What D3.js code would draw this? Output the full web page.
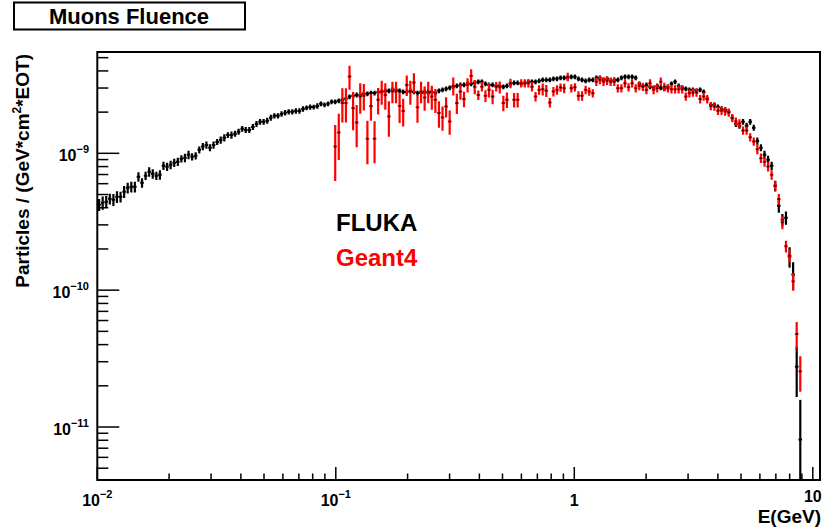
<!DOCTYPE html>
<html>
<head>
<meta charset="utf-8">
<script src="https://cdn.jsdelivr.net/npm/d3@7"></script>
<style>
body { margin: 0; background: #fff; }
text { font-family: "Liberation Sans", Arial, Helvetica, sans-serif; font-weight: bold; }
</style>
</head>
<body>
<svg id="c" width="823" height="529"></svg>
<script>
// binning shared by both histograms (log bins)
var eMin = 0.01, eMax = 10, nBins = 200;
var unit = 1e-9;

// FLUKA, bins 0..196, in units of 1e-9
var fluka = [
 0.421,0.435,0.443,0.465,0.458,0.481,0.481,0.524,0.560,0.569,
 0.569,0.674,0.609,0.685,0.733,0.709,0.685,0.697,0.811,0.797,
 0.824,0.853,0.867,0.912,0.927,0.975,0.943,0.959,1.06,1.12,
 1.15,1.10,1.15,1.21,1.25,1.30,1.36,1.36,1.39,1.44,
 1.51,1.48,1.48,1.56,1.64,1.70,1.70,1.73,1.82,1.88,
 1.88,1.94,1.98,2.01,2.01,2.04,2.04,2.11,2.15,2.18,
 2.18,2.22,2.30,2.26,2.30,2.38,2.38,2.42,2.46,2.50,
 2.59,2.63,2.67,2.67,2.72,2.72,2.76,2.76,2.81,2.81,
 2.86,2.86,2.91,2.91,2.86,2.81,2.81,2.86,2.81,2.76,
 2.76,2.81,2.76,2.81,2.76,2.86,2.91,2.96,3.01,3.06,
 3.11,3.16,3.16,3.22,3.22,3.27,3.33,3.33,3.22,3.16,
 3.16,3.11,3.11,3.06,3.11,3.22,3.27,3.27,3.22,3.27,
 3.33,3.33,3.33,3.38,3.44,3.44,3.44,3.50,3.50,3.56,
 3.56,3.56,3.62,3.62,3.50,3.44,3.38,3.44,3.44,3.56,
 3.56,3.44,3.50,3.38,3.44,3.44,3.56,3.62,3.62,3.62,
 3.56,3.22,3.11,3.16,3.06,3.01,3.11,3.01,2.96,3.06,
 3.22,3.33,3.11,3.01,2.96,2.91,2.91,2.86,2.91,2.81,
 2.50,2.26,2.26,2.18,2.11,2.08,2.01,1.82,1.64,1.59,
 1.70,1.59,1.70,1.54,1.23,1.10,0.975,0.897,0.811,0.579,
 0.414,0.327,0.338,0.176,0.130,0.0276,0.0081
];
// relative errors of FLUKA
var flukaErr = [
 .10,.11,.10,.09,.10,.10,.09,.10,.09,.09,
 .09,.08,.08,.07,.08,.08,.07,.08,.07,.07,
 .07,.07,.07,.06,.07,.07,.06,.06,.06,.06,
 .06,.06,.06,.05,.06,.06,.05,.06,.05,.05,
 .05,.05,.05,.05,.05,.05,.05,.05,.05,.045,
 .045,.045,.045,.045,.045,.045,.045,.045,.04,.045,
 .04,.045,.04,.04,.04,.04,.04,.04,.04,.04,
 .04,.04,.04,.04,.04,.04,.04,.04,.04,.04,
 .04,.04,.04,.04,.04,.04,.04,.04,.04,.04,
 .04,.04,.04,.04,.04,.04,.04,.04,.04,.04,
 .04,.04,.04,.04,.04,.04,.04,.04,.04,.04,
 .04,.04,.04,.04,.04,.04,.04,.04,.04,.04,
 .04,.04,.04,.04,.04,.04,.04,.04,.04,.04,
 .04,.04,.04,.04,.04,.04,.04,.04,.04,.04,
 .04,.04,.04,.04,.04,.04,.04,.04,.04,.04,
 .04,.04,.04,.04,.04,.04,.04,.04,.04,.04,
 .04,.04,.04,.04,.04,.04,.04,.04,.04,.04,
 .04,.04,.04,.045,.045,.045,.045,.05,.05,.05,
 .05,.05,.05,.05,.06,.06,.07,.07,.07,.09,
 .11,.10,.11,.17,.23,.40,.95
];

// Geant4, bins 66..196, in units of 1e-9
var g4First = 66;
var geant4 = [
 1.12,1.42,2.33,2.33,3.64,2.14,1.68,2.60,2.63,1.28,
 2.22,1.28,2.46,2.83,2.67,1.86,2.83,2.83,2.22,2.04,
 3.16,2.83,3.29,2.17,2.83,2.56,2.83,2.60,2.46,1.97,
 1.83,2.20,1.71,3.11,2.33,2.83,2.49,3.16,3.68,3.07,
 2.67,3.07,2.63,2.91,2.60,3.07,3.04,2.33,2.46,3.25,
 2.46,2.46,3.25,3.25,3.25,3.07,2.60,2.91,2.94,2.87,
 2.35,2.83,2.91,3.03,2.99,3.62,2.99,3.04,2.63,2.63,
 2.91,2.83,2.75,3.34,3.44,3.34,3.40,3.34,3.34,2.99,
 2.99,3.25,3.04,3.25,2.99,3.11,3.07,2.91,3.25,2.91,
 2.99,3.34,3.07,2.99,2.94,2.94,2.94,2.94,2.60,2.75,
 2.78,2.78,2.49,2.60,2.49,2.22,2.20,2.05,2.05,2.02,
 1.99,1.81,1.71,1.66,1.47,1.47,1.31,1.22,1.07,0.922,
 0.867,0.801,0.697,0.579,0.463,0.313,0.209,0.179,0.116,0.0479,
 0.0255
];
var geant4Err = [
 .44,.37,.28,.28,.20,.31,.34,.25,.22,.35,
 .22,.34,.22,.20,.22,.29,.18,.18,.25,.23,
 .17,.20,.17,.23,.18,.20,.18,.20,.20,.22,
 .20,.17,.20,.15,.17,.13,.13,.12,.12,.12,
 .08,.08,.10,.12,.12,.08,.10,.13,.13,.08,
 .12,.12,.07,.07,.07,.08,.08,.08,.10,.10,
 .08,.08,.08,.07,.08,.07,.07,.07,.08,.08,
 .07,.07,.07,.07,.07,.07,.07,.07,.07,.07,
 .07,.07,.07,.07,.07,.07,.07,.07,.07,.07,
 .07,.07,.07,.07,.07,.07,.07,.07,.07,.07,
 .07,.07,.07,.07,.07,.07,.07,.07,.07,.07,
 .07,.07,.07,.07,.07,.07,.07,.07,.08,.08,
 .08,.08,.08,.08,.09,.11,.10,.11,.145,.22,
 .29
];

var xMajor = [0.01, 0.1, 1, 10];
var xMajorLabels = [["10","\u22122"], ["10","\u22121"], ["1",""], ["10",""]];
var yMajor = [1e-9, 1e-10, 1e-11];
var yMajorLabels = [["10","\u22129"], ["10","\u221210"], ["10","\u221211"]];

var fl = 97.3, fr = 820, ft = 52, fb = 480;
var svg = d3.select("#c");

var x = d3.scaleLog().domain([0.01, 10.72]).range([fl, fr]);
var y = d3.scaleLog().domain([4.1e-12, 5.5e-9]).range([fb, ft]);

var dl = (Math.log10(eMax) - Math.log10(eMin)) / nBins;
function binEdge(i) { return Math.pow(10, Math.log10(eMin) + i * dl); }
function binMid(i) { return Math.pow(10, Math.log10(eMin) + (i + 0.5) * dl); }

function toPoints(vals, errs, first) {
  return vals.map(function(v, k) {
    return { i: first + k, v: v * unit, e: v * unit * errs[k] };
  });
}

svg.append("defs").append("clipPath").attr("id", "frame")
  .append("rect").attr("x", fl).attr("y", ft).attr("width", fr - fl).attr("height", fb - ft);

// title box
svg.append("rect").attr("x", 14).attr("y", 2.5).attr("width", 231).attr("height", 27)
  .attr("fill", "#fff").attr("stroke", "#000").attr("stroke-width", 2);
svg.append("text").attr("x", 129).attr("y", 24).attr("text-anchor", "middle")
  .attr("font-size", 22).text("Muons Fluence");

// minor ticks
var xMinor = [], yMinor = [];
[-2, -1, 0, 1].forEach(function(p) {
  for (var m = 2; m <= 9; m++) {
    var v = m * Math.pow(10, p);
    if (v < 10.72) xMinor.push(v);
  }
});
[-12, -11, -10, -9].forEach(function(p) {
  for (var m = 2; m <= 9; m++) {
    var v = m * Math.pow(10, p);
    if (v > 4.1e-12 && v < 5.5e-9) yMinor.push(v);
  }
});

var axes = svg.append("g").attr("stroke", "#000").attr("stroke-width", 1.5);
axes.selectAll(".xt").data(xMajor).enter().append("line")
  .attr("x1", function(d) { return x(d); }).attr("x2", function(d) { return x(d); })
  .attr("y1", fb).attr("y2", fb - 13);
axes.selectAll(".xm").data(xMinor).enter().append("line")
  .attr("x1", function(d) { return x(d); }).attr("x2", function(d) { return x(d); })
  .attr("y1", fb).attr("y2", fb - 6.5);
axes.selectAll(".yt").data(yMajor).enter().append("line")
  .attr("y1", function(d) { return y(d); }).attr("y2", function(d) { return y(d); })
  .attr("x1", fl).attr("x2", fl + 22);
axes.selectAll(".ym").data(yMinor).enter().append("line")
  .attr("y1", function(d) { return y(d); }).attr("y2", function(d) { return y(d); })
  .attr("x1", fl).attr("x2", fl + 11);

// histograms
function drawHist(pts, color, mark) {
  var g = svg.append("g").attr("clip-path", "url(#frame)");
  g.selectAll(".v").data(pts).enter().append("line")
    .attr("x1", function(d) { return x(binMid(d.i)); })
    .attr("x2", function(d) { return x(binMid(d.i)); })
    .attr("y1", function(d) { return y(d.v + d.e); })
    .attr("y2", function(d) { return d.v - d.e > 1e-13 ? y(d.v - d.e) : fb + 5; })
    .attr("stroke", color).attr("stroke-width", 2.2);
  g.selectAll(".h").data(pts).enter().append("line")
    .attr("x1", function(d) { return x(binEdge(d.i)); })
    .attr("x2", function(d) { return x(binEdge(d.i + 1)); })
    .attr("y1", function(d) { return y(d.v); })
    .attr("y2", function(d) { return y(d.v); })
    .attr("stroke", color).attr("stroke-width", 2);
  g.selectAll(".m").data(pts).enter().append("rect")
    .attr("x", function(d) { return x(binMid(d.i)) - 0.8; })
    .attr("y", function(d) { return y(d.v) - 0.8; })
    .attr("width", 1.6).attr("height", 1.6).attr("fill", mark);
}
drawHist(toPoints(fluka, flukaErr, 0), "#000", "#000");
drawHist(toPoints(geant4, geant4Err, g4First), "#ff0000", "#000");

// frame
svg.append("rect").attr("x", fl).attr("y", ft).attr("width", fr - fl).attr("height", fb - ft)
  .attr("fill", "none").attr("stroke", "#000").attr("stroke-width", 2);

// tick labels
function powText(sel) {
  sel.append("tspan").attr("font-size", 16).text(function(d) { return d.l[0]; });
  sel.append("tspan").attr("font-size", 11).attr("dy", -8).text(function(d) { return d.l[1]; });
}
svg.selectAll(".xl").data(xMajor.map(function(v, k) { return { v: v, l: xMajorLabels[k] }; }))
  .enter().append("text")
  .attr("x", function(d) { return x(d.v); })
  .attr("y", function(d) { return d.v === 10 ? 502 : 506; })
  .attr("text-anchor", "middle").call(powText);
svg.selectAll(".yl").data(yMajor.map(function(v, k) { return { v: v, l: yMajorLabels[k] }; }))
  .enter().append("text")
  .attr("x", 89).attr("y", function(d) { return y(d.v) + 7.5; })
  .attr("text-anchor", "end").call(powText);

// axis titles
svg.append("text").attr("x", 821).attr("y", 523).attr("text-anchor", "end")
  .attr("font-size", 19).text("E(GeV)");
var yt = svg.append("text").attr("font-size", 19);
yt.append("tspan").text("Particles / (GeV*cm");
yt.append("tspan").attr("font-size", 12).attr("dy", -8).text("2");
yt.append("tspan").attr("dy", 8).text("*EOT)");
// end of the title sits at the top of the frame
var ytLen = yt.node().getComputedTextLength();
yt.attr("transform", "translate(29,0) rotate(-90)").attr("x", -(ft + 2 + ytLen)).attr("y", 0);

// legend
svg.append("text").attr("x", 336).attr("y", 231).attr("font-size", 24).attr("fill", "#000").text("FLUKA");
svg.append("text").attr("x", 336).attr("y", 266).attr("font-size", 24).attr("fill", "#ff0000").text("Geant4");
</script>
</body>
</html>
